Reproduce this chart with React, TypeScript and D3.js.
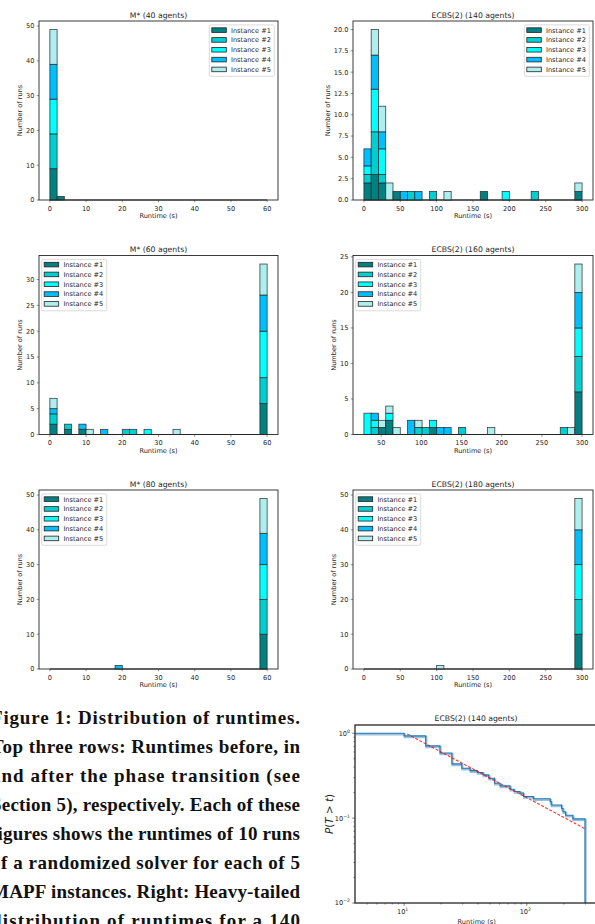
import React from 'react';
import * as d3 from 'd3';

// ---- shared ----
const instanceNames = ['Instance #1', 'Instance #2', 'Instance #3', 'Instance #4', 'Instance #5'];
const instanceColors = ['#008080', '#00ced1', '#00ffff', '#00bfff', '#afeeee'];
const NBINS = 30;

const mstarXTicks = [0, 10, 20, 30, 40, 50, 60];
const ecbsXTicks = [0, 50, 100, 150, 200, 250, 300];
const ecbs160XTicks = [50, 100, 150, 200, 250, 300];

// ---- M* (40 agents) ----
const m40Range: [number, number] = [0, 60];
const m40Bins = [0, 1];
const m40Counts = [[9, 10, 10, 10, 10], [1, 0, 0, 0, 0]];
const m40YTicks = [0, 10, 20, 30, 40, 50];

// ---- ECBS(2) (140 agents) ----
const e140Range: [number, number] = [0, 300];
const e140Bins = [0, 1, 2, 3, 4, 5, 6, 7, 9, 11, 16, 19, 23, 29];
const e140Counts = [
  [2, 1, 1, 2, 0], [3, 5, 5, 4, 3], [2, 1, 3, 2, 3], [0, 0, 0, 0, 2],
  [1, 0, 0, 0, 0], [0, 0, 0, 1, 0], [0, 1, 0, 0, 0], [0, 0, 0, 1, 0],
  [0, 1, 0, 0, 0], [0, 0, 0, 0, 1], [1, 0, 0, 0, 0], [0, 0, 1, 0, 0],
  [0, 1, 0, 0, 0], [1, 0, 0, 0, 1],
];
const e140YTicks = [0, 2.5, 5, 7.5, 10, 12.5, 15, 17.5, 20];

// ---- M* (60 agents) ----
const m60Range: [number, number] = [0, 60];
const m60Bins = [0, 2, 4, 5, 7, 10, 11, 13, 17, 29];
const m60Counts = [
  [2, 2, 0, 1, 2], [1, 1, 0, 0, 0], [1, 0, 0, 1, 0], [0, 0, 0, 0, 1],
  [0, 0, 0, 1, 0], [0, 1, 0, 0, 0], [0, 1, 0, 0, 0], [0, 0, 1, 0, 0],
  [0, 0, 0, 0, 1], [6, 5, 9, 7, 6],
];
const m60YTicks = [0, 5, 10, 15, 20, 25, 30];

// ---- ECBS(2) (160 agents) ----
const e160Range: [number, number] = [28.5, 300];
const e160Bins = [0, 1, 2, 3, 4, 6, 7, 8, 9, 10, 11, 13, 17, 27, 28, 29];
const e160Counts = [
  [0, 0, 3, 0, 0], [0, 1, 1, 1, 0], [1, 0, 0, 0, 1], [2, 0, 1, 0, 1],
  [0, 0, 0, 0, 1], [0, 0, 0, 2, 0], [0, 1, 0, 0, 1], [0, 1, 0, 0, 0],
  [1, 0, 1, 0, 0], [0, 0, 0, 1, 0], [0, 0, 0, 1, 0], [0, 1, 0, 0, 0],
  [0, 0, 0, 0, 1], [0, 1, 0, 0, 0], [0, 0, 0, 0, 1], [6, 5, 4, 5, 4],
];
const e160YTicks = [0, 5, 10, 15, 20, 25];

// ---- M* (80 agents) ----
const m80Range: [number, number] = [0, 60];
const m80Bins = [9, 29];
const m80Counts = [[0, 0, 0, 1, 0], [10, 10, 10, 9, 10]];
const m80YTicks = [0, 10, 20, 30, 40, 50];

// ---- ECBS(2) (180 agents) ----
const e180Range: [number, number] = [0, 300];
const e180Bins = [10, 29];
const e180Counts = [[0, 0, 0, 0, 1], [10, 10, 10, 10, 9]];
const e180YTicks = [0, 10, 20, 30, 40, 50];

// ---- heavy tail, ECBS(2) (140 agents) ----
const ccdfTimes = [4, 10, 15, 19.6, 24.5, 29.5, 34.5, 39.5, 44, 49, 54.5, 60.5, 73, 78.8, 88, 94, 113, 155, 158, 192, 197, 207, 237];
const ccdfProbs = [1.0, 0.93, 0.71, 0.586, 0.435, 0.387, 0.363, 0.344, 0.323, 0.295, 0.257, 0.24, 0.219, 0.206, 0.197, 0.18, 0.169, 0.157, 0.143, 0.13, 0.119, 0.108, 0.098];
const ccdfEnd = 298;
const fitTimes = [10.6, 298];
const fitProbs = [0.98, 0.075];

const captionLines = [
  'Figure 1: Distribution of runtimes.',
  'Top three rows: Runtimes before, in',
  'and after the phase transition (see',
  'Section 5), respectively. Each of these',
  'figures shows the runtimes of 10 runs',
  'of a randomized solver for each of 5',
  'MAPF instances. Right: Heavy-tailed',
  'distribution of runtimes for a 140',
];

const FONT = 'DejaVu Sans, sans-serif';
const FS = 6.6;
const INK = '#262626';

function textWidth(s: string) {
  let w = 0;
  for (const ch of s) w += ch === '.' ? 0.318 : 0.636;
  return w * FS;
}

type HistProps = {
  title: string;
  range: [number, number];
  bins: number[];
  counts: number[][];
  xTicks: number[];
  yTicks: number[];
  yFmt: (v: number) => string;
  legendRight: boolean;
  left: number;
  right: number;
  top: number;
  bottom: number;
};

function Histogram(p: HistProps) {
  const [r0, r1] = p.range;
  const pad = (r1 - r0) * 0.05;
  const x = d3.scaleLinear().domain([r0 - pad, r1 + pad]).range([p.left, p.right]);
  const ymax = (d3.max(p.counts, (c) => d3.sum(c)) || 1) * 1.05;
  const y = d3.scaleLinear().domain([0, ymax]).range([p.bottom, p.top]);
  const bw = (r1 - r0) / NBINS;

  const segs: { x0: number; x1: number; y0: number; y1: number; k: number }[] = [];
  p.bins.forEach((b, i) => {
    let cum = 0;
    p.counts[i].forEach((c, k) => {
      if (c > 0) segs.push({ x0: r0 + b * bw, x1: r0 + (b + 1) * bw, y0: cum, y1: cum + c, k });
      cum += c;
    });
  });

  const yLabels = p.yTicks.map(p.yFmt);
  const maxW = d3.max(yLabels, textWidth) || 0;
  const yLabelX = p.left - maxW - 10.6;
  const cx = (p.left + p.right) / 2;
  const cy = (p.top + p.bottom) / 2;

  const lgW = 65;
  const lgH = 51.4;
  const lgX = p.legendRight ? p.right - 3.7 - lgW : p.left + 2.7;
  const lgY = p.top + 3.9;

  return (
    <g fontFamily={FONT}>
      <line x1={x(r0)} x2={x(r1)} y1={y(0)} y2={y(0)} stroke="#222" strokeWidth={1} />
      {segs.map((s, i) => (
        <rect
          key={i}
          x={x(s.x0)}
          width={x(s.x1) - x(s.x0)}
          y={y(s.y1)}
          height={y(s.y0) - y(s.y1)}
          fill={instanceColors[s.k]}
          stroke="#222"
          strokeOpacity={0.85}
          strokeWidth={0.8}
        />
      ))}
      <rect x={p.left} y={p.top} width={p.right - p.left} height={p.bottom - p.top} fill="none" stroke={INK} strokeWidth={0.9} />
      {p.xTicks.map((t) => (
        <g key={'x' + t}>
          <line x1={x(t)} x2={x(t)} y1={p.bottom} y2={p.bottom + 2.3} stroke={INK} strokeWidth={0.5} />
          <text x={x(t)} y={p.bottom + 10.7} fontSize={FS} textAnchor="middle" fill={INK}>{t}</text>
        </g>
      ))}
      {p.yTicks.map((t, i) => (
        <g key={'y' + t}>
          <line x1={p.left - 2.3} x2={p.left} y1={y(t)} y2={y(t)} stroke={INK} strokeWidth={0.5} />
          <text x={p.left - 4.6} y={y(t) + 2.4} fontSize={FS} textAnchor="end" fill={INK}>{yLabels[i]}</text>
        </g>
      ))}
      <text x={cx} y={p.bottom + 18.3} fontSize={FS} textAnchor="middle" fill={INK}>Runtime (s)</text>
      <text
        transform={`translate(${yLabelX},${cy}) rotate(-90)`}
        fontSize={FS}
        textAnchor="middle"
        dominantBaseline="central"
        fill={INK}
      >
        Number of runs
      </text>
      <text x={cx} y={p.top - 3.3} fontSize={7.7} textAnchor="middle" fill={INK}>{p.title}</text>
      <g>
        <rect x={lgX} y={lgY} width={lgW} height={lgH} rx={1.5} fill="#fff" fillOpacity={0.8} stroke="#cccccc" strokeWidth={0.7} />
        {instanceNames.map((name, k) => {
          const ry = lgY + 5.2 + k * 9.83;
          return (
            <g key={name}>
              <rect x={lgX + 2.5} y={ry - 2.3} width={14.5} height={4.6} fill={instanceColors[k]} stroke="#222" strokeWidth={0.8} />
              <text x={lgX + 21.7} y={ry + 2.4} fontSize={FS} fill={INK}>{name}</text>
            </g>
          );
        })}
      </g>
    </g>
  );
}

function TailPlot() {
  const left = 355, right = 597, top = 725, bottom = 903;
  const x = d3.scaleLog().domain([3.98, 373]).range([left, right]);
  const y = d3.scaleLog().domain([0.01, 1.25]).range([bottom, top]);

  const pts: [number, number][] = ccdfTimes.map((t, i) => [t, ccdfProbs[i]]);
  pts.push([ccdfEnd, ccdfProbs[ccdfProbs.length - 1]]);
  const step = d3.line<[number, number]>().x((d) => x(d[0])).y((d) => y(d[1])).curve(d3.curveStepAfter);
  const path = step(pts) + `V${bottom}`;
  const fitPath = d3.line<number>().x((t) => x(t)).y((_, i) => y(fitProbs[i]))(fitTimes) || '';

  const xMajor = [10, 100];
  const xMinor = [5, 6, 7, 8, 9, 20, 30, 40, 50, 60, 70, 80, 90, 200, 300];
  const yMajor = [1, 0.1, 0.01];
  const yExp = ['0', '\u22121', '\u22122'];
  const yMinor = [0.02, 0.03, 0.04, 0.05, 0.06, 0.07, 0.08, 0.09, 0.2, 0.3, 0.4, 0.5, 0.6, 0.7, 0.8, 0.9];
  const cx = (left + right) / 2;

  return (
    <g fontFamily={FONT}>
      <defs>
        <clipPath id="tailclip">
          <rect x={left} y={top} width={right - left} height={bottom - top} />
        </clipPath>
      </defs>
      <g clipPath="url(#tailclip)">
        <path d={path} fill="none" stroke="#1f77b4" strokeOpacity={0.45} strokeWidth={2.2} transform="translate(0.6,1.2)" />
        <path d={path} fill="none" stroke="#1f77b4" strokeWidth={1.1} />
        <path d={fitPath} fill="none" stroke="#ff0000" strokeOpacity={0.8} strokeWidth={1.1} strokeDasharray="3,1.6" />
      </g>
      <rect x={left} y={top} width={right - left} height={bottom - top} fill="none" stroke={INK} strokeWidth={1.3} />
      {xMinor.map((t) => (
        <line key={'xm' + t} x1={x(t)} x2={x(t)} y1={bottom} y2={bottom + 1.6} stroke={INK} strokeWidth={0.5} />
      ))}
      {yMinor.map((t) => (
        <line key={'ym' + t} x1={left - 1.6} x2={left} y1={y(t)} y2={y(t)} stroke={INK} strokeWidth={0.5} />
      ))}
      {xMajor.map((t, i) => (
        <g key={'xM' + t}>
          <line x1={x(t)} x2={x(t)} y1={bottom} y2={bottom + 2.8} stroke={INK} strokeWidth={0.6} />
          <text x={x(t) - 1.5} y={bottom + 11.3} fontSize={FS} textAnchor="middle" fill={INK}>
            10<tspan fontSize={4.6} dy={-3}>{String(i + 1)}</tspan>
          </text>
        </g>
      ))}
      {yMajor.map((t, i) => (
        <g key={'yM' + t}>
          <line x1={left - 2.8} x2={left} y1={y(t)} y2={y(t)} stroke={INK} strokeWidth={0.6} />
          <text x={left - 5} y={y(t) + 2.4} fontSize={FS} textAnchor="end" fill={INK}>
            10<tspan fontSize={4.6} dy={-3}>{yExp[i]}</tspan>
          </text>
        </g>
      ))}
      <text x={476.7} y={bottom + 20.5} fontSize={FS} textAnchor="middle" fill={INK}>Runtime (s)</text>
      <text x={cx} y={top - 4} fontSize={7.7} textAnchor="middle" fill={INK}>ECBS(2) (140 agents)</text>
      <text
        transform={`translate(328.5,${(top + bottom) / 2}) rotate(-90)`}
        fontSize={10.4}
        textAnchor="middle"
        dominantBaseline="central"
        fill={INK}
      >
        <tspan fontStyle="italic">P</tspan>(<tspan fontStyle="italic">T</tspan> &gt; <tspan fontStyle="italic">t</tspan>)
      </text>
    </g>
  );
}

const colLeft = { left: 39, right: 278 };
const colRight = { left: 353, right: 593 };
const rows = [
  { top: 21, bottom: 200 },
  { top: 255.5, bottom: 434.5 },
  { top: 490, bottom: 669 },
];

const intFmt = (v: number) => String(v);
const oneDec = (v: number) => v.toFixed(1);

export default function App() {
  return (
    <svg
      width={595}
      height={924}
      viewBox="0 0 595 924"
      style={{ position: 'absolute', left: 0, top: 0, background: '#fff' }}
    >
      <rect width={595} height={924} fill="#fff" />
      <Histogram title="M* (40 agents)" range={m40Range} bins={m40Bins} counts={m40Counts}
        xTicks={mstarXTicks} yTicks={m40YTicks} yFmt={intFmt} legendRight {...colLeft} {...rows[0]} />
      <Histogram title="ECBS(2) (140 agents)" range={e140Range} bins={e140Bins} counts={e140Counts}
        xTicks={ecbsXTicks} yTicks={e140YTicks} yFmt={oneDec} legendRight {...colRight} {...rows[0]} />
      <Histogram title="M* (60 agents)" range={m60Range} bins={m60Bins} counts={m60Counts}
        xTicks={mstarXTicks} yTicks={m60YTicks} yFmt={intFmt} legendRight={false} {...colLeft} {...rows[1]} />
      <Histogram title="ECBS(2) (160 agents)" range={e160Range} bins={e160Bins} counts={e160Counts}
        xTicks={ecbs160XTicks} yTicks={e160YTicks} yFmt={intFmt} legendRight={false} {...colRight} {...rows[1]} />
      <Histogram title="M* (80 agents)" range={m80Range} bins={m80Bins} counts={m80Counts}
        xTicks={mstarXTicks} yTicks={m80YTicks} yFmt={intFmt} legendRight={false} {...colLeft} {...rows[2]} />
      <Histogram title="ECBS(2) (180 agents)" range={e180Range} bins={e180Bins} counts={e180Counts}
        xTicks={ecbsXTicks} yTicks={e180YTicks} yFmt={intFmt} legendRight={false} {...colRight} {...rows[2]} />
      <TailPlot />
      <g fontFamily="'Liberation Serif', serif" fontWeight="bold" fontSize={19} fill="#111">
        {captionLines.map((line, i) => (
          <text key={i} x={-9} y={724 + i * 28.95} textLength={309} lengthAdjust="spacing">
            {line}
          </text>
        ))}
      </g>
    </svg>
  );
}
